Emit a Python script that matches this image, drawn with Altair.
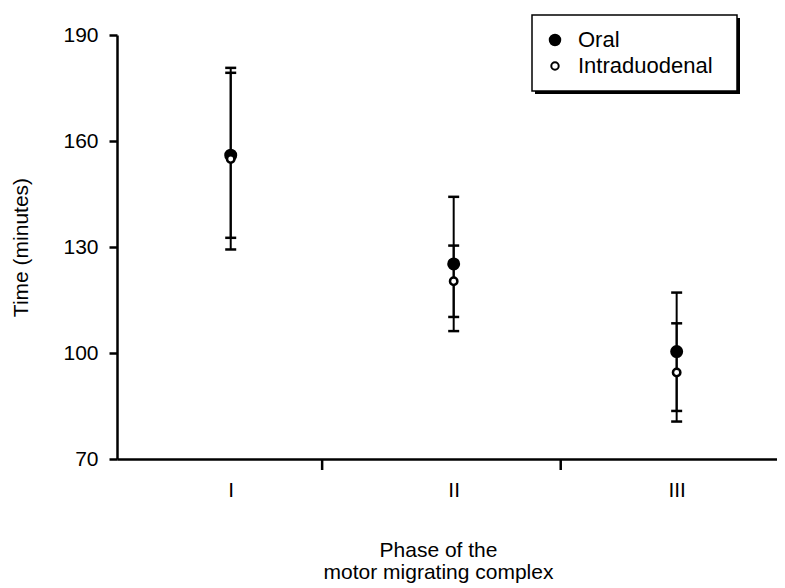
import altair as alt
import pandas as pd

# ---- data ----
phases = ["I", "II", "III"]
phase_pos = [1, 2, 3]
routes = ["Oral", "Intraduodenal"]
oral_mean = [156.0, 125.2, 100.4]
oral_low = [132.6, 106.2, 83.6]
oral_high = [179.3, 144.2, 117.1]
id_mean = [154.9, 120.3, 94.5]
id_low = [129.3, 110.2, 80.6]
id_high = [180.7, 130.4, 108.4]
y_ticks = [70, 100, 130, 160, 190]
x_boundaries = [1.41, 2.48]
x_title = ["Phase of the", "motor migrating complex"]
y_title = "Time (minutes)"

rows = []
for route, ms, los, his in [("Oral", oral_mean, oral_low, oral_high),
                            ("Intraduodenal", id_mean, id_low, id_high)]:
    for p, pos, m, lo, hi in zip(phases, phase_pos, ms, los, his):
        rows.append(dict(phase=p, pos=pos, route=route, mean=m, low=lo, high=hi))
df = pd.DataFrame(rows)
bdf = pd.DataFrame({"b": x_boundaries})
one = pd.DataFrame({"k": [0]})

FONT = "Liberation Sans"
FS = 21

label_expr = " : ".join(
    [f"datum.value == {v} ? '{t}'" for v, t in zip(phase_pos[:-1], phases[:-1])]
    + [f"'{phases[-1]}'"]
)

xscale = alt.Scale(domain=[0.49, 3.45], nice=False, zero=False)
yscale = alt.Scale(domain=[70, 190], nice=False, zero=False)

xaxis = alt.Axis(values=phase_pos, labelExpr=label_expr, ticks=False, tickSize=0,
                 labelPadding=20, labelFontSize=FS, labelFont=FONT, labelColor="black",
                 domainColor="black", domainWidth=2.5, grid=False,
                 title=x_title, titleFontSize=FS, titleFont=FONT, titleFontWeight="normal",
                 titleColor="black", titleX=321, titleY=97, titleAlign="center",
                 titleBaseline="alphabetic", titleLineHeight=22)
yaxis = alt.Axis(values=y_ticks, tickSize=8, tickWidth=2.5, tickColor="black",
                 labelPadding=11, labelFontSize=FS, labelFont=FONT, labelColor="black",
                 domainColor="black", domainWidth=2.5, grid=False,
                 title=y_title, titleFontSize=FS, titleFont=FONT, titleFontWeight="normal",
                 titleColor="black", titleX=-86, titleY=212, titleAlign="center",
                 titleBaseline="bottom")

legend = alt.Legend(orient="none", legendX=427, legendY=-6, title=None, padding=0,
                    labelFontSize=22, labelFont=FONT, labelColor="black",
                    symbolStrokeWidth=2, symbolType="circle",
                    labelOffset=12, rowPadding=4, zindex=5)

base = alt.Chart(df)

bars = base.mark_rule(strokeWidth=2, color="black").encode(
    x=alt.X("pos:Q", scale=xscale, axis=xaxis),
    y=alt.Y("low:Q", scale=yscale, axis=yaxis),
    y2="high:Q",
)
caps_low = base.mark_tick(orient="horizontal", size=11, thickness=2.5, color="black", opacity=1).encode(
    x=alt.X("pos:Q", scale=xscale, axis=xaxis), y=alt.Y("low:Q", scale=yscale, axis=yaxis))
caps_high = base.mark_tick(orient="horizontal", size=11, thickness=2.5, color="black", opacity=1).encode(
    x=alt.X("pos:Q", scale=xscale, axis=xaxis), y=alt.Y("high:Q", scale=yscale, axis=yaxis))

points = base.mark_point(filled=True, strokeWidth=2.5, opacity=1).encode(
    x=alt.X("pos:Q", scale=xscale, axis=xaxis),
    y=alt.Y("mean:Q", scale=yscale, axis=yaxis),
    fill=alt.Fill("route:N", scale=alt.Scale(domain=routes, range=["black", "white"]),
                  legend=legend),
    stroke=alt.Stroke("route:N", scale=alt.Scale(domain=routes, range=["black", "black"]),
                      legend=legend),
    size=alt.Size("route:N", scale=alt.Scale(domain=routes, range=[110, 55]), legend=legend),
)

bticks = alt.Chart(bdf).mark_rule(strokeWidth=2.5, color="black").encode(
    x=alt.X("b:Q", scale=xscale, axis=xaxis), y=alt.value(424), y2=alt.value(435))

# legend frame with drop shadow
shadow = alt.Chart(one).mark_rect(color="black").encode(
    x=alt.value(418), x2=alt.value(623), y=alt.value(-17), y2=alt.value(59))
frame = alt.Chart(one).mark_rect(fill="white", stroke="black", strokeWidth=1.5).encode(
    x=alt.value(415), x2=alt.value(620), y=alt.value(-20), y2=alt.value(56))

chart = (
    alt.layer(bars, caps_low, caps_high, points, bticks, shadow, frame)
    .properties(
        width=660, height=424,
        autosize=alt.AutoSizeParams(type="none"),
        padding={"left": 109, "top": 27, "right": 0, "bottom": 125},
    )
    .configure(font=FONT)
    .configure_view(stroke="transparent", strokeWidth=0)
    .configure_axis(grid=False)
)

chart.save("out.html", embed_options={"renderer": "svg", "actions": False})
